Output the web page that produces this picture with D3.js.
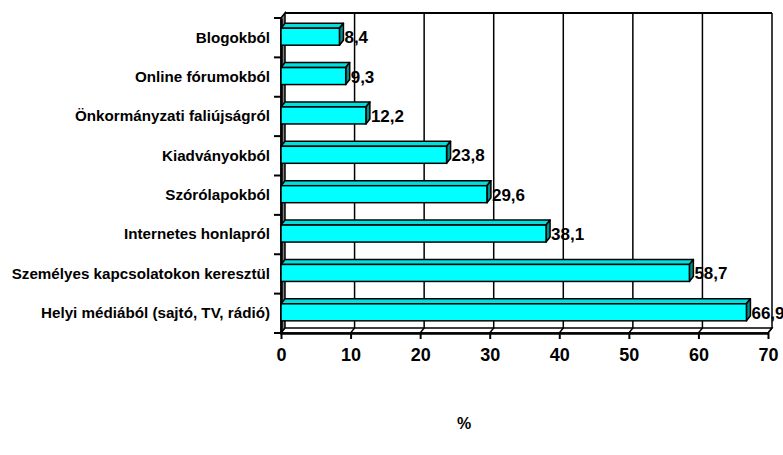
<!DOCTYPE html>
<html>
<head>
<meta charset="utf-8">
<script src="https://cdn.jsdelivr.net/npm/d3@7"></script>
<style>
  body { margin: 0; background: #fff; }
  svg { font-family: Arial, "Liberation Sans", sans-serif; font-weight: bold; }
</style>
</head>
<body>
<svg width="783" height="455"></svg>
<script>
// data
const categories = [
  'Blogokból',
  'Online fórumokból',
  'Önkormányzati faliújságról',
  'Kiadványokból',
  'Szórólapokból',
  'Internetes honlapról',
  'Személyes kapcsolatokon keresztül',
  'Helyi médiából (sajtó, TV, rádió)'
]
const values = [8.4, 9.3, 12.2, 23.8, 29.6, 38.1, 58.7, 66.9]
const xTicks = [0, 10, 20, 30, 40, 50, 60, 70]
const axisTitle = '%'

const svg = d3.select('svg')

// front plane of the plot + depth of the 3d box
const plotLeft = 281, plotRight = 768, plotTop = 18, plotBottom = 333
const dx = 4, dy = -5

const x = d3.scaleLinear().domain([0, 70]).range([plotLeft, plotRight])
const y = d3.scaleBand().domain(categories).range([plotTop, plotBottom])

const huFormat = d3.formatLocale({decimal: ',', thousands: ' ', grouping: [3], currency: ['', ' Ft']}).format(',.1f')

// left wall (grey)
svg.append('path')
  .attr('d', `M${plotLeft},${plotTop}L${plotLeft + dx},${plotTop + dy}L${plotLeft + dx},${plotBottom + dy}L${plotLeft},${plotBottom}Z`)
  .attr('fill', '#808080')
  .attr('stroke', '#000')
  .attr('stroke-width', 1.5)

// floor
svg.append('path')
  .attr('d', `M${plotLeft},${plotBottom}L${plotRight},${plotBottom}L${plotRight + dx},${plotBottom + dy}L${plotLeft + dx},${plotBottom + dy}Z`)
  .attr('fill', '#fff')
  .attr('stroke', '#000')
  .attr('stroke-width', 1.5)

// gridlines on back wall, continued across the floor
xTicks.forEach(t => {
  if (t === 0) return
  svg.append('path')
    .attr('d', `M${x(t) + dx},${plotTop + dy}L${x(t) + dx},${plotBottom + dy}L${x(t)},${plotBottom}`)
    .attr('fill', 'none')
    .attr('stroke', '#000')
    .attr('stroke-width', 1.5)
})

// top edge of back wall
svg.append('line')
  .attr('x1', plotLeft + dx).attr('x2', plotRight + dx)
  .attr('y1', plotTop + dy).attr('y2', plotTop + dy)
  .attr('stroke', '#000')
  .attr('stroke-width', 2)

// y axis
svg.append('g')
  .attr('transform', `translate(${plotLeft},0)`)
  .call(d3.axisLeft(y).tickSize(0).tickPadding(11))
  .attr('font-family', null)
  .attr('font-size', 15.2)
  .call(g => g.select('.domain').attr('stroke-width', 2.5))
  .call(g => g.selectAll('text').attr('fill', '#000'))

// y tick marks between categories
svg.append('g').selectAll('line')
  .data(d3.range(categories.length + 1))
  .join('line')
  .attr('x1', plotLeft - 7).attr('x2', plotLeft)
  .attr('y1', i => plotTop + i * y.step())
  .attr('y2', i => plotTop + i * y.step())
  .attr('stroke', '#000')
  .attr('stroke-width', 2)

// x axis
svg.append('g')
  .attr('transform', `translate(0,${plotBottom})`)
  .call(d3.axisBottom(x).tickValues(xTicks).tickSize(6).tickPadding(9).tickSizeOuter(0))
  .attr('font-family', null)
  .attr('font-size', 18)
  .call(g => g.select('.domain').attr('stroke-width', 2.5))
  .call(g => g.selectAll('.tick line').attr('stroke-width', 2))
  .call(g => g.selectAll('text').attr('fill', '#000'))

// 3d bars
const barH = 17
const bars = svg.append('g').selectAll('g')
  .data(values.map((v, i) => ({cat: categories[i], v: v})))
  .join('g')

const by = d => y(d.cat) + y.bandwidth() / 2 - 1 - barH / 2

// top face
bars.append('path')
  .attr('d', d => {
    const x0 = plotLeft, x1 = x(d.v), y0 = by(d)
    return `M${x0},${y0}L${x0 + dx},${y0 + dy}L${x1 + dx},${y0 + dy}L${x1},${y0}Z`
  })
  .attr('fill', '#00dede')
  .attr('stroke', '#000')
  .attr('stroke-width', 1.5)
  .attr('stroke-linejoin', 'round')

// side face
bars.append('path')
  .attr('d', d => {
    const x1 = x(d.v), y0 = by(d)
    return `M${x1},${y0}L${x1 + dx},${y0 + dy}L${x1 + dx},${y0 + dy + barH}L${x1},${y0 + barH}Z`
  })
  .attr('fill', '#008f8f')
  .attr('stroke', '#000')
  .attr('stroke-width', 1.5)
  .attr('stroke-linejoin', 'round')

// front face
bars.append('rect')
  .attr('x', plotLeft)
  .attr('y', d => by(d))
  .attr('width', d => x(d.v) - plotLeft)
  .attr('height', barH)
  .attr('fill', '#00ffff')
  .attr('stroke', '#000')
  .attr('stroke-width', 1.5)

// value labels (the last one runs off the right edge, as in the original)
bars.append('text')
  .attr('x', d => x(d.v) + 5)
  .attr('y', d => by(d) + barH / 2 + 2)
  .attr('dominant-baseline', 'middle')
  .attr('font-size', 17)
  .text(d => huFormat(d.v))

// axis title
svg.append('text')
  .attr('x', 464)
  .attr('y', 429)
  .attr('text-anchor', 'middle')
  .attr('font-size', 16)
  .text(axisTitle)
</script>
</body>
</html>
